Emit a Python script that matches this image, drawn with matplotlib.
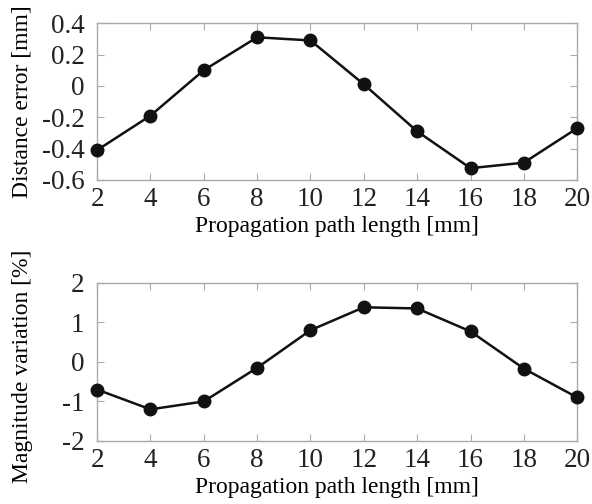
import numpy as np
import matplotlib.pyplot as plt

path_len = [2, 4, 6, 8, 10, 12, 14, 16, 18, 20]
dist_err = [-0.41, -0.19, 0.10, 0.31, 0.29, 0.01, -0.29, -0.525, -0.49, -0.27]
mag_var = [-0.7, -1.2, -1.0, -0.15, 0.8, 1.38, 1.35, 0.77, -0.17, -0.9]

plt.rcParams['font.family'] = ['Liberation Serif', 'DejaVu Serif']
plt.rcParams['text.color'] = '#222222'

fig = plt.figure(figsize=(5.92, 5.04), dpi=100)
ax1 = fig.add_axes([0.164, 0.643, 0.811, 0.311])
ax2 = fig.add_axes([0.164, 0.125, 0.811, 0.314])


def style(ax):
    for s in ax.spines.values():
        s.set_color('#aaaaaa')
        s.set_linewidth(1.0)
    ax.tick_params(direction='in', top=True, right=True, color='#aaaaaa',
                   length=5, labelcolor='#222222', labelsize=19.5)
    ax.tick_params(axis='x', pad=5)
    ax.tick_params(axis='y', pad=9)
    ax.set_xlim(2, 20)
    ax.set_xticks(range(2, 21, 2))


ax1.plot(path_len, dist_err, color='#111111', lw=1.8, marker='o', ms=9, clip_on=False, zorder=3)
style(ax1)
ax1.set_ylim(-0.6, 0.4)
ax1.set_yticks([-0.6, -0.4, -0.2, 0, 0.2, 0.4])
ax1.set_yticklabels(['-0.6', '-0.4', '-0.2', '0', '0.2', '0.4'])
ax1.set_xlabel('Propagation path length [mm]', fontsize=17, labelpad=3)
ax1.set_ylabel('Distance error [mm]', fontsize=17)
ax1.yaxis.set_label_coords(-0.134, 0.5)

ax2.plot(path_len, mag_var, color='#111111', lw=1.8, marker='o', ms=9, clip_on=False, zorder=3)
style(ax2)
ax2.set_ylim(-2, 2)
ax2.set_yticks([-2, -1, 0, 1, 2])
ax2.set_yticklabels(['-2', '-1', '0', '1', '2'])
ax2.set_xlabel('Propagation path length [mm]', fontsize=17, labelpad=3)
ax2.set_ylabel('Magnitude variation [%]', fontsize=17)
ax2.yaxis.set_label_coords(-0.134, 0.47)

fig.savefig('out.png', dpi=100)
